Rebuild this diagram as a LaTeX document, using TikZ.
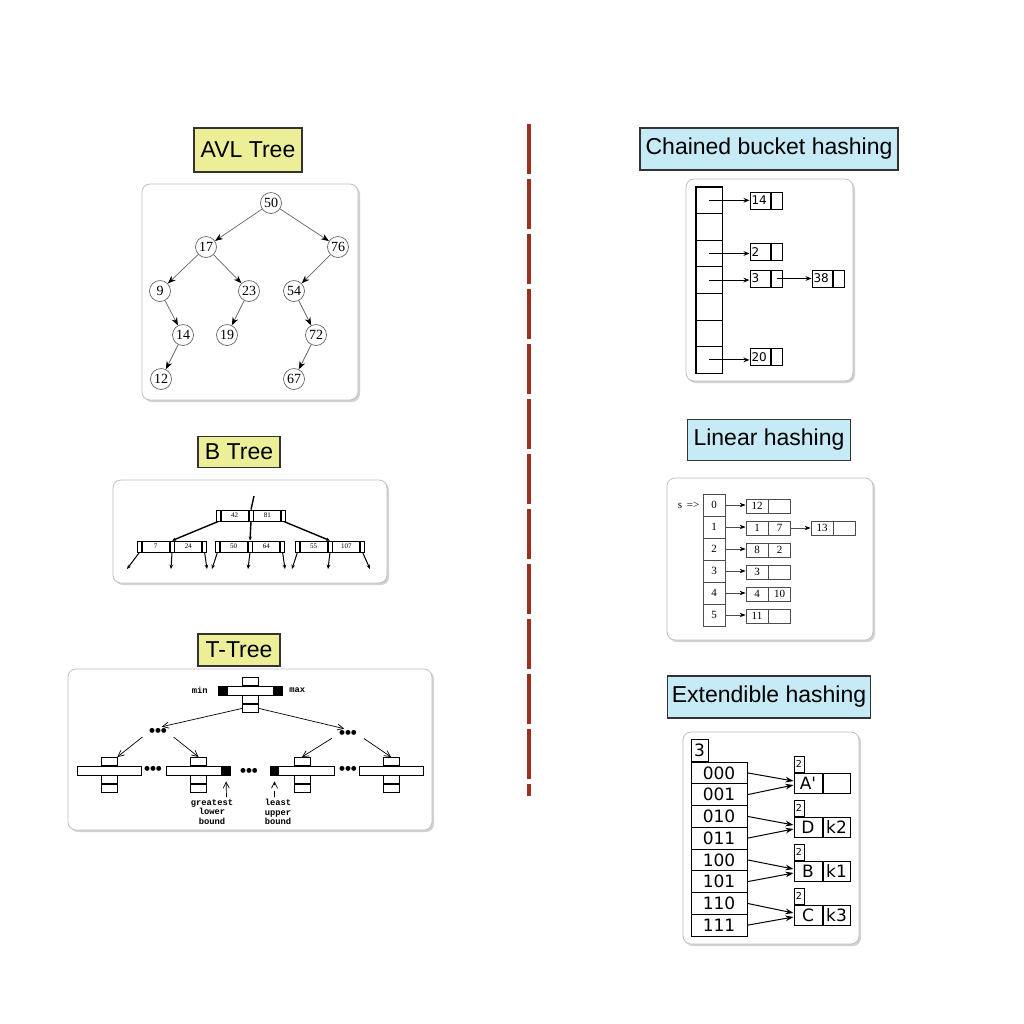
\documentclass[tikz,border=0pt]{standalone}
\usepackage{fontspec}
\setmainfont{Liberation Serif}
\setsansfont{Liberation Sans}
\setmonofont{Liberation Mono}
\newfontfamily\dejavu{DejaVu Sans}
\usetikzlibrary{positioning,arrows.meta,shadows,calc}

\definecolor{titleyellow}{RGB}{237,238,152}
\definecolor{titleblue}{RGB}{198,234,246}
\definecolor{splitred}{RGB}{158,47,31}

% one B-tree page: name, west end x, y, left key, right key
\newcommand{\btnode}[5]{%
  \node[btptr, anchor=west] (#1p0) at (#2,#3) {};
  \node[btkey, right=0pt of #1p0] (#1k1) {#4};
  \node[btptr, right=0pt of #1k1] (#1p1) {};
  \node[btkey, right=0pt of #1p1] (#1k2) {#5};
  \node[btptr, right=0pt of #1k2] (#1p2) {};
}

% one T-tree node: name, centre of the bar
\newcommand{\ttnode}[3]{%
  \node[ttbar] (#1) at (#2,#3) {};
  \node[ttbox, anchor=south] (#1up) at (#1.north) {};
  \node[ttbox, anchor=north] (#1lo) at (#1.south) {};
  \node[ttbox, anchor=north] (#1lo2) at (#1lo.south) {};
}

\begin{document}
\begin{tikzpicture}[
        x=0.5pt, y=-0.5pt,
        title/.style={draw=black!80, line width=0.75pt, inner sep=0pt,
            font=\sffamily\fontsize{11.5}{13}\selectfont},
        treetitle/.style={title, fill=titleyellow},
        hashtitle/.style={title, fill=titleblue},
        panel/.style={draw=black!25, line width=0.4pt, fill=white, rounded corners=4pt,
            drop shadow={shadow xshift=1pt, shadow yshift=-1pt, opacity=0.35}},
        splitline/.style={splitred, line width=2pt, dash pattern=on 25pt off 2.5pt},
        avl/.style={circle, draw=black!60, line width=0.35pt, minimum size=10.5pt,
            inner sep=0pt, font=\fontsize{7}{8}\selectfont},
        avledge/.style={draw=black!60, line width=0.35pt,
            -{Stealth[length=4pt, width=3pt, black]}},
        btptr/.style={draw, line width=0.4pt, minimum width=2pt, minimum height=5.5pt, inner sep=0pt},
        btkey/.style={draw, line width=0.4pt, minimum width=13.5pt, minimum height=5.5pt,
            inner sep=0pt, font=\fontsize{3.5}{4}\selectfont},
        btlink/.style={line width=0.7pt, -{Stealth[length=2pt, width=1.6pt]}},
        btdown/.style={line width=0.5pt, -{Stealth[length=2.2pt, width=1.8pt]}},
        ttbar/.style={draw, line width=0.35pt, minimum width=32pt, minimum height=4.5pt, inner sep=0pt},
        ttbox/.style={draw, line width=0.35pt, minimum width=8pt, minimum height=4pt, inner sep=0pt},
        ttmark/.style={fill=black, minimum size=4.5pt, inner sep=0pt},
        ttlink/.style={line width=0.35pt, -{Straight Barb[length=3pt, width=3pt]}},
        ttlabel/.style={font=\ttfamily\bfseries\fontsize{4.4}{4.75}\selectfont, align=center, inner sep=0pt},
        ttdots/.style={font=\sffamily\bfseries\fontsize{8.5}{8.5}\selectfont, inner sep=0pt},
        cbcell/.style={draw, line width=0.45pt, minimum width=13pt, minimum height=13.3pt, inner sep=0pt},
        cbkey/.style={draw, line width=0.5pt, minimum height=8.5pt, text width=8.5pt,
            inner xsep=0.75pt, inner ysep=0pt, align=left, font=\dejavu\fontsize{6}{7}\selectfont},
        cbptr/.style={draw, line width=0.5pt, minimum width=5.5pt, minimum height=8.5pt, inner sep=0pt},
        cbarrow/.style={line width=0.5pt, -{Stealth[length=3pt, width=2.4pt]}},
        lhcell/.style={draw=black!70, line width=0.35pt, minimum size=11pt, inner sep=0pt,
            font=\fontsize{5.5}{6}\selectfont},
        lhkey/.style={draw=black!70, line width=0.35pt, minimum width=11pt, minimum height=7pt,
            inner sep=0pt, font=\fontsize{5.5}{6}\selectfont},
        lharrow/.style={draw=black!70, line width=0.35pt, -{Stealth[length=3pt, width=2.2pt, black]}},
        ehcell/.style={draw, line width=0.5pt, minimum width=28pt, minimum height=10.9pt,
            inner sep=0pt, font=\dejavu\fontsize{8.5}{9}\selectfont},
        ehkey/.style={draw, line width=0.5pt, minimum width=14pt, minimum height=10pt,
            inner sep=0pt, font=\dejavu\fontsize{8.5}{9}\selectfont},
        ehdepth/.style={draw, line width=0.5pt, minimum width=5pt, minimum height=8pt,
            inner sep=0pt, font=\dejavu\fontsize{4.8}{5}\selectfont},
        eharrow/.style={line width=0.5pt, -{Stealth[length=4pt, width=2.8pt]}}
    ]

    \useasboundingbox[fill=white] (0,0) rectangle (1024,1024);

    % Separator between trees and hashing
    \draw[splitline] (529,124) -- (529,796);

    % Titles
    \node[treetitle, minimum width=54pt, minimum height=22pt] (avltitle) at (248,150) {AVL Tree};
    \node[treetitle, minimum width=41pt, minimum height=15.5pt] (bttitle) at (239,452) {B Tree};
    \node[treetitle, minimum width=41pt, minimum height=16pt] (tttitle) at (239,650) {T-Tree};
    \node[hashtitle, minimum width=129pt, minimum height=21pt] (cbtitle) at (769,149) {Chained bucket hashing};
    \node[hashtitle, minimum width=81.5pt, minimum height=20.5pt] (lhtitle) at (769,440) {Linear hashing};
    \node[hashtitle, minimum width=101.5pt, minimum height=21pt] (ehtitle) at (769,697) {Extendible hashing};

    % Panels
    \path[panel] (142,184) rectangle (358,400);
    \path[panel] (113,480) rectangle (387,583);
    \path[panel] (68,669) rectangle (432,830);
    \path[panel] (686,179) rectangle (853,381);
    \path[panel] (667,478) rectangle (873,640);
    \path[panel] (683,732) rectangle (859,944);

    % AVL tree
    \node[avl] (n50) at (271,203) {50};
    \node[avl] (n17) at (206,247) {17};
    \node[avl] (n76) at (338,247) {76};
    \node[avl] (n9) at (160,291) {9};
    \node[avl] (n23) at (249,291) {23};
    \node[avl] (n54) at (294,291) {54};
    \node[avl] (n14) at (183,335) {14};
    \node[avl] (n19) at (227,335) {19};
    \node[avl] (n72) at (316,335) {72};
    \node[avl] (n12) at (161,379) {12};
    \node[avl] (n67) at (294,379) {67};

    \draw[avledge] (n50) -- (n17);
    \draw[avledge] (n50) -- (n76);
    \draw[avledge] (n17) -- (n9);
    \draw[avledge] (n17) -- (n23);
    \draw[avledge] (n76) -- (n54);
    \draw[avledge] (n9) -- (n14);
    \draw[avledge] (n23) -- (n19);
    \draw[avledge] (n54) -- (n72);
    \draw[avledge] (n14) -- (n12);
    \draw[avledge] (n72) -- (n67);

    % B tree
    \btnode{btroot}{216}{515.5}{42}{81}
    \btnode{btl}{137}{546.5}{7}{24}
    \btnode{btm}{215}{546.5}{50}{64}
    \btnode{btr}{295}{546.5}{55}{107}

    \coordinate (btup) at (254,496);
    \draw[line width=0.7pt] (btup) -- (btrootp1.north);
    \draw[btlink] (btrootp0.south) -- (btlp1.north);
    \draw[btlink] (btrootp1.south) -- (btmp1.north);
    \draw[btlink] (btrootp2.south) -- (btrp1.north);

    \foreach \bt/\a/\b/\d in {btl/127/171/207, btm/212/248/285, btr/292/328/370} {
        \coordinate (\bt-e0) at (\a,569);
        \coordinate (\bt-e1) at (\b,569);
        \coordinate (\bt-e2) at (\d,569);
        \draw[btdown] (\bt p0.south) -- (\bt-e0);
        \draw[btdown] (\bt p1.south) -- (\bt-e1);
        \draw[btdown] (\bt p2.south) -- (\bt-e2);
    }

    % T-tree
    \ttnode{ttroot}{250.5}{690.5}
    \node[ttmark, anchor=west] (ttrootmin) at (ttroot.west) {};
    \node[ttmark, anchor=east] (ttrootmax) at (ttroot.east) {};
    \node[ttlabel, left=5pt of ttrootmin] (ttmin) {min};
    \node[ttlabel, right=3pt of ttrootmax] (ttmax) {max};

    \ttnode{tt1}{109}{770.5}
    \ttnode{tt2}{198.5}{770.5}
    \ttnode{tt3}{302}{770.5}
    \ttnode{tt4}{391}{770.5}
    \node[ttmark, anchor=east] (tt2max) at (tt2.east) {};
    \node[ttmark, anchor=west] (tt3min) at (tt3.west) {};

    \node[ttdots] (ttdotsl) at (158,732) {\textbullet\textbullet\textbullet};
    \node[ttdots] (ttdotsr) at (348,734) {\textbullet\textbullet\textbullet};
    \node[ttdots] (ttdots1) at (153,770) {\textbullet\textbullet\textbullet};
    \node[ttdots] (ttdots2) at (249,772) {\textbullet\textbullet\textbullet};
    \node[ttdots] (ttdots3) at (348,770) {\textbullet\textbullet\textbullet};

    \draw[ttlink, shorten >=2pt] (ttrootlo2.west) -- (ttdotsl.north);
    \draw[ttlink, shorten >=2pt] (ttrootlo2.east) -- (ttdotsr.north);
    \draw[ttlink, shorten <=4pt] (ttdotsl.west) -- (tt1up.north east);
    \draw[ttlink, shorten <=4pt] (ttdotsl.east) -- (tt2up.north);
    \draw[ttlink, shorten <=4pt] (ttdotsr.west) -- (tt3up.north);
    \draw[ttlink, shorten <=4pt] (ttdotsr.east) -- (tt4up.north);

    \node[ttlabel] (ttglb) at (212,812) {greatest\\lower\\bound};
    \node[ttlabel] (ttlub) at (278,812) {least\\upper\\bound};
    \coordinate (ttglbfoot) at (226.5,797);
    \coordinate (ttlubfoot) at (274.5,797);
    \draw[ttlink, shorten >=3pt] (ttglbfoot) -- (tt2max.south);
    \draw[ttlink, dashed, shorten >=3pt] (ttlubfoot) -- (tt3min.south);

    % Chained bucket hashing
    \foreach \i in {0,...,6}
        \node[cbcell] (cb\i) at (709,200.3+26.6*\i) {};
    \draw[line width=0.7pt] (cb0.north west) rectangle (cb6.south east);

    \node[cbkey] (cbk14) at (760,200.5) {14};
    \node[cbptr, right=0pt of cbk14] (cbp14) {};
    \node[cbkey] (cbk2) at (760,252) {2};
    \node[cbptr, right=0pt of cbk2] (cbp2) {};
    \node[cbkey] (cbk3) at (760,278.5) {3};
    \node[cbptr, right=0pt of cbk3] (cbp3) {};
    \node[cbkey] (cbk38) at (822,278.5) {38};
    \node[cbptr, right=0pt of cbk38] (cbp38) {};
    \node[cbkey] (cbk20) at (760,357) {20};
    \node[cbptr, right=0pt of cbk20] (cbp20) {};

    \draw[cbarrow] (cb0.center) -- (cb0.center -| cbk14.west);
    \draw[cbarrow] (cb2.center) -- (cb2.center -| cbk2.west);
    \draw[cbarrow] (cb3.center) -- (cb3.center -| cbk3.west);
    \draw[cbarrow] (cbp3.center) -- (cbp3.center -| cbk38.west);
    \draw[cbarrow] (cb6.center) -- (cb6.center -| cbk20.west);

    % Linear hashing
    \foreach \i/\a/\b in {0/12/{}, 1/1/7, 2/8/2, 3/3/{}, 4/4/10, 5/11/{}} {
        \node[lhcell] (lh\i) at (714,505+22*\i) {\i};
        \node[lhkey] (lhk\i) at (757,506+22*\i) {\a};
        \node[lhkey, right=0pt of lhk\i] (lhv\i) {\b};
        \draw[lharrow] (lh\i.east) -- (lh\i.east -| lhk\i.west);
    }
    \node[font=\fontsize{5.5}{6}\selectfont, inner sep=0pt, left=1.5pt of lh0] (lhs) {s \,=>};
    \node[lhkey] (lhk13) at (822,528) {13};
    \node[lhkey, right=0pt of lhk13] (lhv13) {};
    \draw[lharrow] (lhv1.east) -- (lhv1.east -| lhk13.west);

    % Extendible hashing
    \foreach \i/\b in {0/000, 1/001, 2/010, 3/011, 4/100, 5/101, 6/110, 7/111}
        \node[ehcell] (eh\i) at (719,772.9+21.75*\i) {\b};
    \node[ehcell, minimum width=8.5pt, minimum height=11pt, anchor=south west] (ehglobal) at (eh0.north west) {3};

    \foreach \k/\a/\b/\y in {A/A'/{}/783, D/D/k2/827, B/B/k1/871, C/C/k3/915} {
        \node[ehkey] (eh\k) at (808,\y) {\a};
        \node[ehkey, minimum width=13.5pt, right=0pt of eh\k] (eh\k v) {\b};
        \node[ehdepth, anchor=south west] (eh\k d) at (eh\k.north west) {2};
    }

    \draw[eharrow] (eh0.east) -- ($(ehA.west)+(0,-2)$);
    \draw[eharrow] (eh1.east) -- ($(ehA.west)+(0,2)$);
    \draw[eharrow] (eh2.east) -- ($(ehD.west)+(0,-2)$);
    \draw[eharrow] (eh3.east) -- ($(ehD.west)+(0,2)$);
    \draw[eharrow] (eh4.east) -- ($(ehB.west)+(0,-2)$);
    \draw[eharrow] (eh5.east) -- ($(ehB.west)+(0,2)$);
    \draw[eharrow] (eh6.east) -- ($(ehC.west)+(0,-2)$);
    \draw[eharrow] (eh7.east) -- ($(ehC.west)+(0,2)$);

\end{tikzpicture}
\end{document}
